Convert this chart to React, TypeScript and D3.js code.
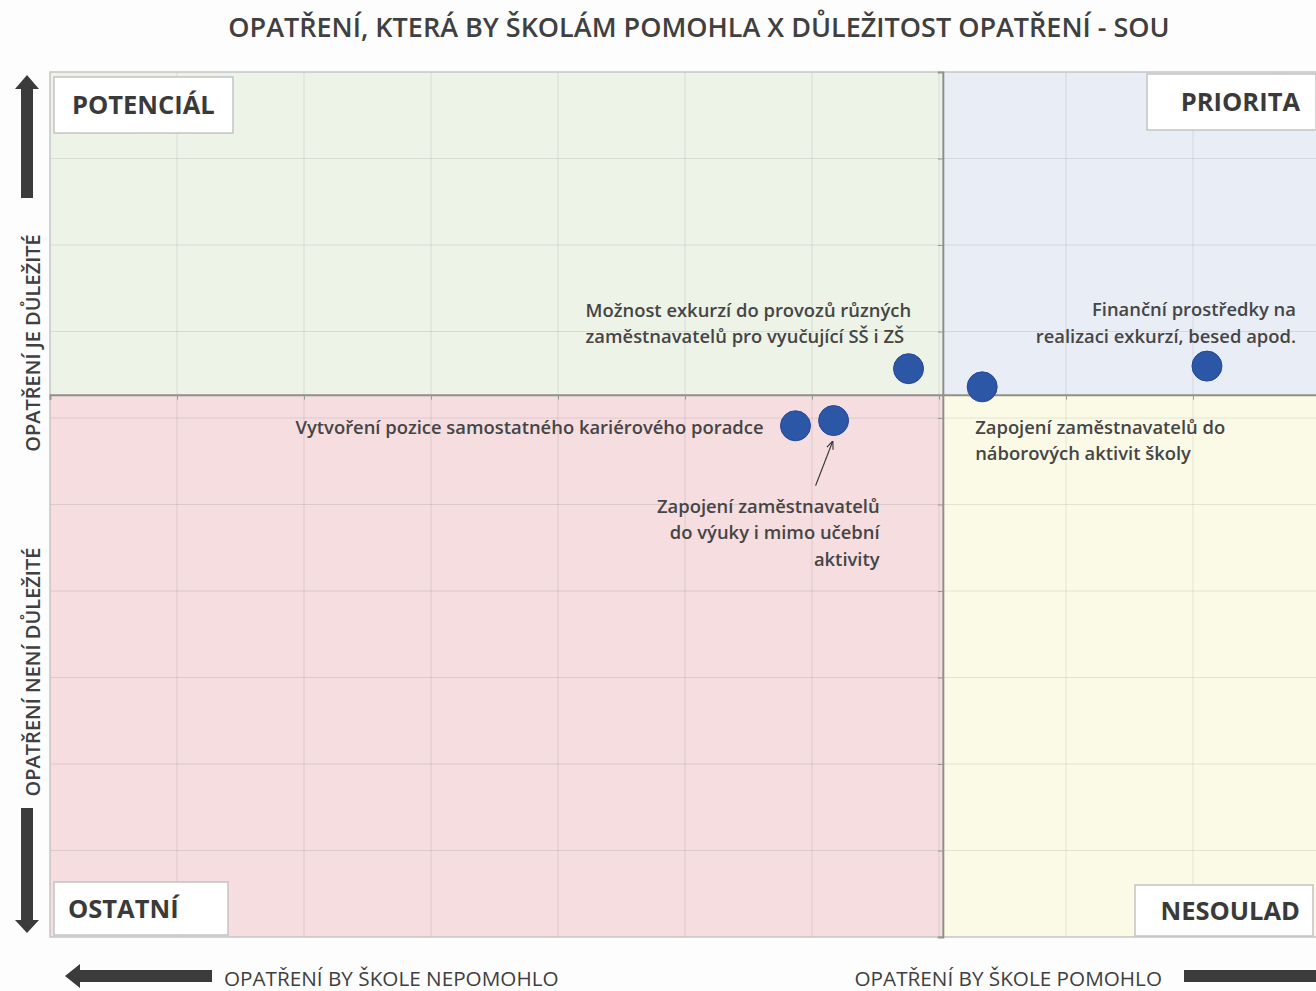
import { useEffect, useRef } from 'react'
import * as d3 from 'd3'

const TITLE = 'OPATŘENÍ, KTERÁ BY ŠKOLÁM POMOHLA X DŮLEŽITOST OPATŘENÍ - SOU'

// measures: x = would help school, y = importance
const measures = [
  'Možnost exkurzí do provozů různých|zaměstnavatelů pro vyučující SŠ i ZŠ',
  'Vytvoření pozice samostatného kariérového poradce',
  'Zapojení zaměstnavatelů|do výuky i mimo učební|aktivity',
  'Zapojení zaměstnavatelů do|náborových aktivit školy',
  'Finanční prostředky na|realizaci exkurzí, besed apod.',
]
const helpValues = [6.76, 5.87, 6.17, 7.34, 9.11]
const importanceValues = [6.57, 5.91, 5.97, 6.36, 6.6]

// axes crossing (averages)
const xCross = 7.03
const yCross = 6.27
const xTicks = d3.range(0, 11, 1)
const yTicks = d3.range(0, 11, 1)

const quadrantNames = ['POTENCIÁL', 'PRIORITA', 'OSTATNÍ', 'NESOULAD']
const yAxisTexts = ['OPATŘENÍ JE DŮLEŽITÉ', 'OPATŘENÍ NENÍ DŮLEŽITÉ']
const xAxisTexts = ['OPATŘENÍ BY ŠKOLE NEPOMOHLO', 'OPATŘENÍ BY ŠKOLE POMOHLO']

// label placement relative to the dot (pixels)
const labelPlacement = [
  { dx: -323, dy: -52, anchor: 'start' },
  { dx: -32, dy: 8, anchor: 'end' },
  { dx: 46, dy: 92, anchor: 'end' },
  { dx: -7, dy: 47, anchor: 'start' },
  { dx: 89, dy: -50, anchor: 'end' },
]

const W = 1316
const H = 991
const FONT = '"Open Sans", "Noto Sans", sans-serif'

export default function App() {
  const ref = useRef<SVGSVGElement | null>(null)

  useEffect(() => {
    const svg = d3.select(ref.current)
    svg.selectAll('*').remove()

    const m = { left: 50, top: 72, right: 1320, bottom: 937 }
    const x = d3.scaleLinear().domain([0, 10]).range([m.left, m.right])
    const y = d3.scaleLinear().domain([0, 10]).range([m.bottom, m.top])
    const cx = x(xCross)
    const cy = y(yCross)

    svg.append('rect').attr('width', W).attr('height', H).attr('fill', '#fdfdfd')

    // title
    svg.append('text')
      .attr('x', 699).attr('y', 37)
      .attr('text-anchor', 'middle')
      .attr('font-family', FONT).attr('font-size', 27).attr('font-weight', 600)
      .attr('fill', '#404040')
      .text(TITLE)

    // quadrant backgrounds
    const quads = [
      { x0: m.left, x1: cx, y0: m.top, y1: cy, fill: '#eef3e8' },
      { x0: cx, x1: m.right, y0: m.top, y1: cy, fill: '#e9edf6' },
      { x0: m.left, x1: cx, y0: cy, y1: m.bottom, fill: '#f5dde0' },
      { x0: cx, x1: m.right, y0: cy, y1: m.bottom, fill: '#fbfae6' },
    ]
    svg.selectAll('rect.quad').data(quads).join('rect')
      .attr('class', 'quad')
      .attr('x', d => d.x0).attr('y', d => d.y0)
      .attr('width', d => d.x1 - d.x0).attr('height', d => d.y1 - d.y0)
      .attr('fill', d => d.fill)

    // gridlines
    const grid = svg.append('g').attr('stroke', '#000').attr('stroke-opacity', 0.09).attr('stroke-width', 1)
    grid.selectAll('line.v').data(xTicks).join('line')
      .attr('x1', d => x(d)).attr('x2', d => x(d))
      .attr('y1', m.top).attr('y2', m.bottom)
    grid.selectAll('line.h').data(yTicks).join('line')
      .attr('y1', d => y(d)).attr('y2', d => y(d))
      .attr('x1', m.left).attr('x2', m.right)

    svg.append('rect')
      .attr('x', m.left).attr('y', m.top)
      .attr('width', m.right - m.left).attr('height', m.bottom - m.top)
      .attr('fill', 'none').attr('stroke', '#c9c9c9').attr('stroke-width', 1.5)

    // crossing axes with small ticks
    const vAxis = svg.append('g').attr('transform', `translate(${cx},0)`)
      .call(d3.axisLeft(y).tickValues(yTicks).tickSize(5).tickFormat(() => ''))
    const hAxis = svg.append('g').attr('transform', `translate(0,${cy})`)
      .call(d3.axisBottom(x).tickValues(xTicks).tickSize(5).tickFormat(() => ''))
    ;[vAxis, hAxis].forEach(a => {
      a.select('.domain').attr('stroke', '#8f8f8a').attr('stroke-width', 2)
      a.selectAll('.tick line').attr('stroke', '#9a9a95')
    })

    // quadrant boxes
    const boxes = [
      { x: 54, y: 77, w: 179, h: 56, tx: 72, anchor: 'start' },
      { x: 1147, y: 74, w: 169, h: 56, tx: 1300, anchor: 'end' },
      { x: 54, y: 882, w: 174, h: 53, tx: 68, anchor: 'start' },
      { x: 1135, y: 885, w: 178, h: 51, tx: 1300, anchor: 'end' },
    ]
    const bx = svg.selectAll('g.box').data(boxes).join('g').attr('class', 'box')
    bx.append('rect')
      .attr('x', d => d.x).attr('y', d => d.y).attr('width', d => d.w).attr('height', d => d.h)
      .attr('fill', '#fff').attr('stroke', '#c4c4c4').attr('stroke-width', 1.5)
    bx.append('text')
      .attr('x', d => d.tx).attr('y', d => d.y + d.h / 2 + 9)
      .attr('text-anchor', d => d.anchor)
      .attr('font-family', FONT).attr('font-size', 25.5).attr('font-weight', 700)
      .attr('fill', '#3a3a3a')
      .text((_, i) => quadrantNames[i])

    // big arrows
    const arrowFill = '#3b3b3b'
    const arrow = (pts: [number, number][]) =>
      svg.append('polygon').attr('points', pts.map(p => p.join(',')).join(' ')).attr('fill', arrowFill)
    arrow([[27, 75], [39, 89], [33, 89], [33, 198], [21, 198], [21, 89], [15, 89]])
    arrow([[27, 933], [39, 920], [33, 920], [33, 808], [21, 808], [21, 920], [15, 920]])
    arrow([[65, 976], [80, 964], [80, 970], [212, 970], [212, 982], [80, 982], [80, 988]])
    arrow([[1332, 976], [1318, 964], [1318, 970], [1184, 970], [1184, 982], [1318, 982], [1318, 988]])

    // axis texts
    svg.selectAll('text.yax').data(yAxisTexts).join('text')
      .attr('class', 'yax')
      .attr('transform', (_, i) => `translate(40,${i === 0 ? 343 : 672}) rotate(-90)`)
      .attr('text-anchor', 'middle')
      .attr('font-family', FONT).attr('font-size', 20).attr('font-weight', 600)
      .attr('fill', '#404040')
      .text(d => d)
    svg.selectAll('text.xax').data(xAxisTexts).join('text')
      .attr('class', 'xax')
      .attr('x', (_, i) => (i === 0 ? 224 : 1162))
      .attr('y', 986)
      .attr('text-anchor', (_, i) => (i === 0 ? 'start' : 'end'))
      .attr('font-family', FONT).attr('font-size', 20.7)
      .attr('fill', '#404040')
      .text(d => d)

    // points
    const pts = measures.map((label, i) => ({
      label,
      px: x(helpValues[i]),
      py: y(importanceValues[i]),
      ...labelPlacement[i],
    }))

    // pointer arrow for the third label
    const defs = svg.append('defs')
    defs.append('marker').attr('id', 'ah').attr('viewBox', '0 0 10 10')
      .attr('refX', 9).attr('refY', 5).attr('markerWidth', 7).attr('markerHeight', 7)
      .attr('orient', 'auto')
      .append('path').attr('d', 'M0,1 L10,5 L0,9').attr('fill', 'none').attr('stroke', '#333').attr('stroke-width', 1.3)
    const p3 = pts[2]
    svg.append('line')
      .attr('x1', p3.px - 18).attr('y1', p3.py + 65)
      .attr('x2', p3.px - 1).attr('y2', p3.py + 21)
      .attr('stroke', '#333').attr('stroke-width', 1.2)
      .attr('marker-end', 'url(#ah)')

    svg.selectAll('circle.pt').data(pts).join('circle')
      .attr('class', 'pt')
      .attr('cx', d => d.px).attr('cy', d => d.py).attr('r', 15)
      .attr('fill', '#2c56a6').attr('stroke', '#24479a').attr('stroke-width', 1)

    const lab = svg.selectAll('text.lab').data(pts).join('text')
      .attr('class', 'lab')
      .attr('text-anchor', d => d.anchor)
      .attr('font-family', FONT).attr('font-size', 18.4).attr('font-weight', 600)
      .attr('fill', '#454545')
    lab.selectAll('tspan').data(d => d.label.split('|').map((t, k) => ({ t, k, d }))).join('tspan')
      .attr('x', e => e.d.px + e.d.dx)
      .attr('y', e => e.d.py + e.d.dy + e.k * 26.5)
      .text(e => e.t)
  }, [])

  return (
    <svg ref={ref} width={W} height={H} style={{ position: 'absolute', left: 0, top: 0 }} />
  )
}
